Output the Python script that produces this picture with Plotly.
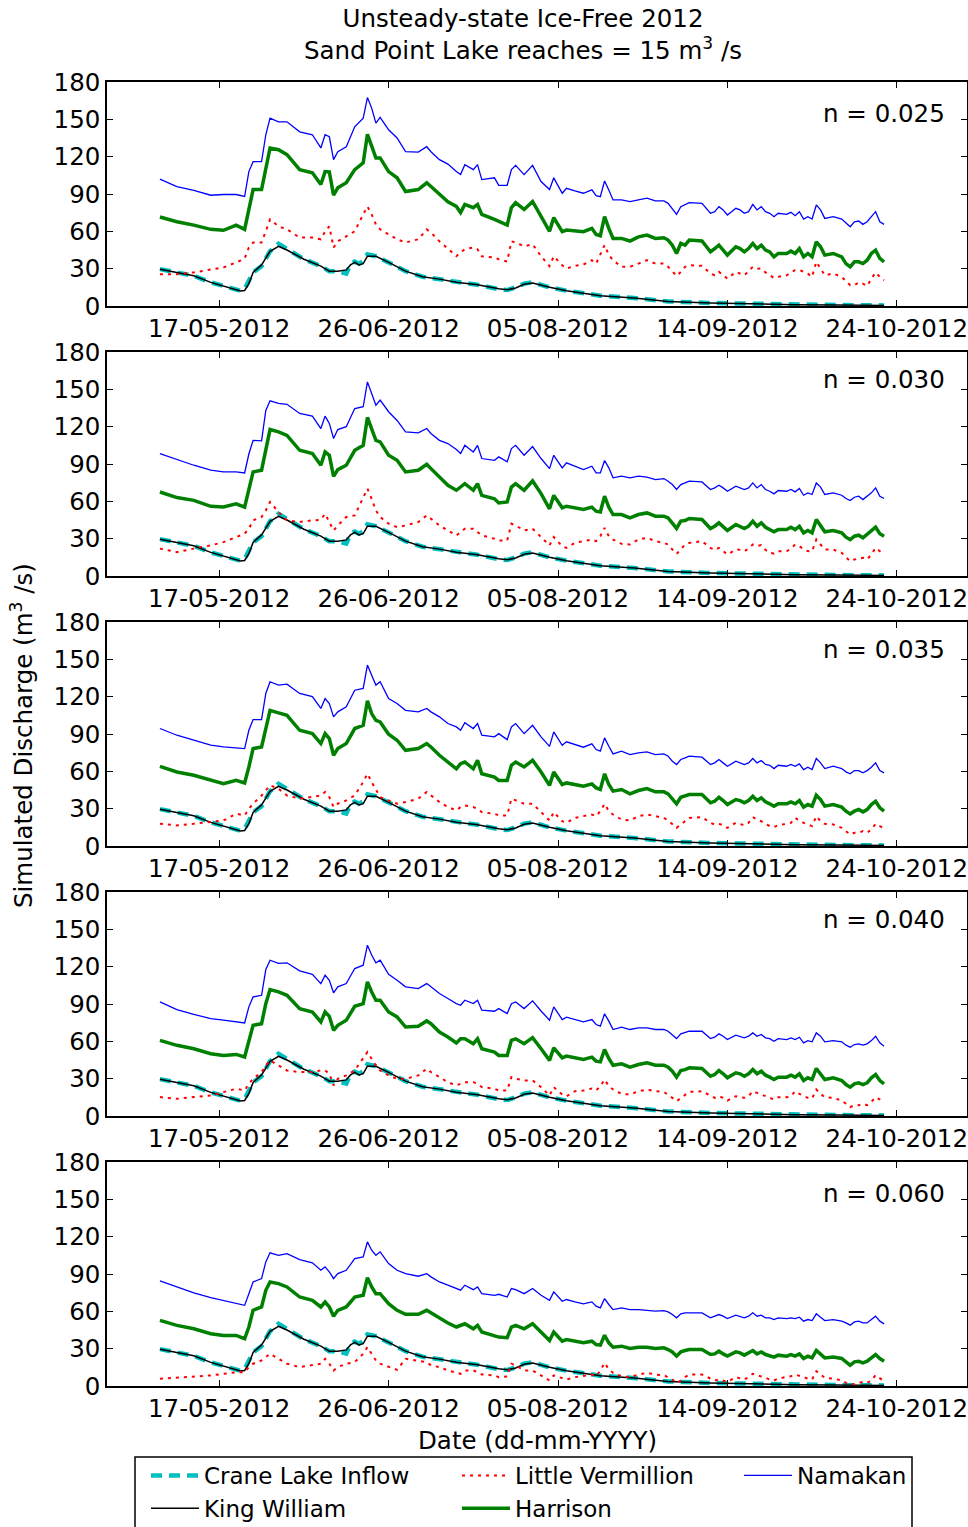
import pandas as pd
import plotly.graph_objects as go

START = pd.Timestamp("2012-05-03")

# day offsets from START for the sampled points
DAYS = [0, 4, 8, 12, 15, 18, 20, 21, 22, 24, 25, 26, 28, 30, 33, 36, 38, 39, 40, 41,
        42, 44, 46, 48, 49, 50, 51, 52, 54, 56, 58, 61, 63, 64, 66, 68, 70, 71, 72, 74,
        75, 76, 79, 80, 82, 83, 84, 86, 88, 90, 92, 93,
        95, 96, 98, 100, 102, 103, 104, 105, 106, 107, 109, 111, 113, 115, 117, 119, 120, 121, 122, 123,
        124, 125, 128, 130, 131, 132, 133, 134, 136, 137, 138, 139, 140, 141, 142, 143, 144, 145, 146, 148,
        149, 150, 151, 152, 153, 154, 155, 156, 157, 159, 161, 162, 163, 164, 165, 166, 167, 168, 169, 170, 171]

BASE_DAYS = [0, 4, 8, 12, 16, 19, 20, 21, 22, 24, 26, 28, 30, 34, 38, 40, 42, 44, 45, 46,
             47, 48, 49, 51, 54, 58, 62, 66, 70, 75, 80, 82, 84, 86, 88, 92, 96, 104, 112, 120,
             130, 140, 150, 160, 171]

CRANE_LAKE = [29.6, 27, 24.3, 19, 15, 12.3, 13.6, 20, 27, 32, 44, 50, 45.6, 37.6, 32, 28, 28, 26, 33.6, 35.7,
              34, 36, 41.6, 40, 35, 28, 23.5, 21.6, 19, 17, 13.6, 12.8, 15, 18, 19, 15, 12.3, 8.3, 6.4, 3.7,
              2.4, 1.6, 1.0, 0.8, 0.5]
KING_WILLIAM = [29.6, 27, 24.3, 19, 15, 12, 12.5, 18, 27, 33, 44, 48, 45, 37.6, 32, 28, 28, 29, 33, 35,
                33, 34, 40, 40, 35, 28, 23.5, 21.6, 19, 17, 13.8, 13, 14.5, 17.5, 18.5, 15, 12.3, 8.3, 6.4, 3.7,
                2.4, 1.6, 1.0, 0.8, 0.5]

# n = 0.025
NAMAKAN_025 = [102, 96, 93, 89, 89.6, 89.6, 88, 108, 116, 116, 137.6, 151, 148, 148, 140, 137.6, 127, 137.6, 136, 117.6,
               124, 128, 144, 151, 167.5, 159, 147, 151.5, 141.6, 135, 124, 123.7, 128, 124, 117.6, 114, 108, 105.6, 113.6, 109.6,
               113.6, 101.6, 103, 97, 97, 109.6, 113, 105.6, 113, 100, 93.6, 103,
               90.6, 94.6, 92.5, 90.6, 93.3, 88.7, 87.9, 100.5, 93.3, 85.2, 85.2, 83.9, 85.2, 86.6, 84.4, 84.4, 82.5, 78.5, 73.7, 79.8,
               81.2, 83, 82.5, 74.5, 75.8, 79.8, 77.2, 73.1, 78.5, 77.2, 74.5, 75.8, 81.7, 77.2, 79.8, 75.8, 74.5, 71.8, 74.5, 73.7,
               75.3, 72.6, 75.8, 69.9, 71.8, 69.9, 81.2, 77.2, 70.4, 71.8, 69.9, 66.4, 63.7, 67.7, 68.3, 65.6, 67.7, 71.8, 75.8, 67.7, 65.6]
HARRISON_025 = [71.5, 67.7, 65, 61.6, 60.8, 65, 61.6, 79, 93.6, 93.6, 111, 127, 125.6, 121.6, 109.6, 107, 97.6, 108, 107.7, 89,
                95, 99, 109.6, 115, 138, 128, 119, 119, 108, 103, 92, 93.6, 99, 96, 89.6, 83.7, 80, 75, 81.6, 79,
                81.6, 73.6, 69.6, 68, 65, 79, 83, 77.6, 84, 72, 60, 71,
                59.7, 61, 60.2, 59.7, 62.4, 57.5, 56.5, 71.8, 62.4, 54.3, 54.3, 52.2, 55.6, 57, 54.3, 54.8, 53, 48.9, 42.2, 50.3,
                48.9, 53, 52.2, 43.5, 46.2, 48.9, 44.9, 40.9, 47.6, 46.2, 43.5, 46.2, 50.3, 46.2, 48.9, 44.9, 43.5, 39.5, 42.2, 42.2,
                44.1, 42.2, 46.2, 39.5, 42.2, 39.5, 51.6, 47.6, 40.9, 42.2, 39.5, 34.1, 31.5, 35.5, 35.5, 34.1, 36.8, 42.2, 44.9, 38.2, 35.5]
LITTLE_VERMILLION_025 = [25.6, 25.6, 27, 29, 31, 35, 38, 47, 51, 51, 60, 69.6, 64, 61.6, 55, 55, 53.6, 60, 64, 47,
                         52, 56, 60, 73.6, 80, 73.6, 65.6, 61.6, 57.6, 53.6, 51, 53.6, 61.6, 59, 52, 45.6, 40, 43, 45.6, 47,
                         45.6, 40, 39, 37.6, 35.7, 52, 51, 48, 49.6, 40, 32, 40,
                         32.8, 30.1, 32.3, 33.3, 36.8, 34.1, 40.9, 48.9, 40.9, 36.8, 31.5, 31.5, 34.1, 36.8, 34.1, 34.1, 31.5, 27.4, 24.2, 27.4,
                         31.5, 32.8, 32.3, 26.1, 24.7, 27.4, 24.7, 22, 27.4, 26, 24.7, 28, 31.5, 30, 30.1, 27, 24.7, 22.5, 23.4, 24.7,
                         27, 28.8, 29, 27.4, 26, 23.4, 35.5, 30.1, 24.7, 26.1, 23.4, 20, 16.7, 16.7, 19, 18, 16.1, 22, 26.9, 23.4, 20.7]

# n = 0.030
NAMAKAN_030 = [98.4, 93.6, 89, 85, 83.6, 83.6, 82.8, 98, 109, 108.6, 133, 140.8, 138.7, 138, 130.6, 128.5, 118.5, 128.5, 122.6, 110.5,
               117.7, 120, 134.6, 136, 156, 146.7, 137.3, 141.3, 132, 125, 115.8, 115, 118.5, 114.5, 109, 106.4, 101.6, 98.4, 105, 99.7,
               105, 94.4, 93, 95.7, 91.7, 102.4, 105, 97, 104, 94.4, 86.3, 97,
               86.9, 90.9, 88.2, 85.5, 88.2, 82.9, 82.9, 92.8, 86.9, 78.9, 80.2, 78.9, 80.2, 79.4, 77.5, 78.3, 76.2, 73.5, 69.5, 73.5,
               74.8, 76.2, 75.6, 69.5, 70.8, 73, 70.8, 68.1, 72.2, 70.8, 69.5, 70.8, 74.8, 70.8, 73.5, 69.5, 68.1, 66, 68.7, 68.1,
               69.5, 67.6, 70.3, 64.9, 66.8, 65.5, 74.8, 71.4, 65.5, 66.8, 64.9, 62.3, 60.6, 63.3, 64.1, 61.4, 64.1, 66.8, 70.8, 64.1, 62.3]
HARRISON_030 = [67.5, 63, 60.8, 56, 55.4, 58, 55.4, 68.9, 83.6, 85, 101, 117.7, 115.8, 113, 101, 98.4, 89, 99.7, 97, 80,
                85.5, 89, 101, 105, 127.4, 118.5, 109, 107.8, 97, 93, 83.6, 85, 89.8, 86.3, 79.6, 72.9, 68.9, 71.5, 74.2, 68.9,
                74.2, 64.8, 62, 58.7, 59.5, 71.5, 74.2, 68.9, 76.4, 66.2, 54, 64.8,
                54.8, 56.1, 54.8, 53.4, 55.3, 52.1, 51.5, 64.1, 55.3, 49.4, 49.4, 46.7, 49.4, 50.7, 48.1, 48.1, 46.7, 42.7, 38.2, 44.1,
                44.6, 46.2, 45.4, 38.2, 40, 42.7, 40, 36.6, 41.4, 40, 38.2, 40, 44.1, 40, 42.7, 39.2, 37.3, 35.5, 37.3, 37.3,
                39.2, 37.3, 40, 34.7, 36.6, 34.7, 45.4, 40.8, 35.5, 36.6, 34.7, 31.2, 29.3, 32, 32.8, 30.7, 33.3, 36.6, 39.2, 33.9, 32]
LITTLE_VERMILLION_030 = [22, 19.2, 22, 24.6, 27.2, 31.3, 34, 38, 44.7, 47.4, 52.7, 59.5, 51.4, 44.7, 43.4, 44.7, 45.2, 50, 43.4, 36.6,
                         40.6, 47.4, 48.7, 63.5, 70.2, 62, 52.7, 47.4, 42, 39.3, 40.6, 43.4, 48.7, 46, 40.6, 36.6, 32.6, 35.3, 38, 38,
                         35.3, 32.6, 29.9, 28.6, 28.6, 42, 40.6, 36.6, 38, 31.3, 24.6, 31.3,
                         23.8, 22.6, 26.6, 28, 29.3, 28, 32, 38.7, 32, 29.3, 25.8, 25.3, 29.3, 30.7, 28, 26.6, 25.3, 21.3, 17.8, 21.3,
                         25.3, 26.6, 28, 22.6, 21, 22.6, 20, 17.3, 21.3, 21, 19.9, 22, 25.3, 24, 24.8, 21, 18.6, 18, 19.9, 19.9,
                         22, 25.3, 24, 21.3, 20, 19.9, 29.3, 25.3, 21.3, 21.3, 18.6, 15, 11.9, 13.3, 14, 14.6, 13.3, 17.3, 22.6, 19.9, 17.3]

# n = 0.035
NAMAKAN_035 = [94.4, 89, 85, 81, 79.6, 79, 78.3, 93, 101.6, 101.6, 122.6, 132, 129.3, 130, 122.6, 120, 110.5, 118.5, 114.5, 103.8,
               107.8, 111.8, 125.2, 126.6, 145.4, 137.3, 129.3, 132, 118.5, 114.5, 109, 107.8, 110.5, 107.8, 103.8, 98.4, 95.7, 93, 99, 94.4,
               98.4, 89, 87.7, 90.3, 85.5, 95.7, 98.4, 90.3, 97, 87.7, 80.1, 91.7,
               80.9, 83.7, 81.5, 79.4, 82.1, 77.5, 76.2, 86.9, 80.2, 74, 76.2, 73.5, 74.8, 75.6, 73.5, 74, 72.2, 68.1, 65.5, 69.5,
               70.8, 72.2, 71.4, 65.5, 66.8, 69.5, 66.8, 64.1, 68.1, 66.8, 65.5, 66.8, 70.3, 66.8, 68.7, 65.5, 64.9, 62.2, 64.9, 64.1,
               65.5, 64.1, 66, 61.4, 63.3, 61.4, 70.3, 66.8, 62.2, 64.1, 62.2, 59.6, 58, 60.6, 60.6, 58.8, 60.6, 63.3, 66.8, 60.6, 58.8]
HARRISON_035 = [64, 59.5, 56.8, 53.3, 50, 52.7, 50.6, 63.5, 78.3, 79.6, 95.7, 109, 107, 105, 93, 90.3, 82.3, 90.3, 86.3, 72.9,
                78.3, 82.3, 94.4, 97, 116.6, 106.4, 101, 99.7, 89.8, 85, 76.9, 78.3, 82.3, 79.6, 72.9, 67.5, 62, 66.2, 67.5, 62,
                68.9, 58.1, 55.4, 52.7, 52.7, 64.8, 67.5, 63.5, 68.9, 59.5, 48.7, 59.5,
                49.4, 50.7, 49.4, 48.1, 49.9, 46.7, 45.4, 58, 49.4, 44.1, 45.4, 41.9, 44.6, 46.2, 43.5, 43.5, 41.9, 38.2, 33.9, 39.2,
                40, 41.4, 41.4, 34.7, 36, 39.2, 36.5, 33.3, 37.3, 36.5, 34.7, 36.5, 40, 36.5, 38.7, 35.5, 33.9, 32, 33.9, 33.9,
                35.5, 33.9, 36.5, 31.2, 33.3, 32, 40.8, 37.3, 32, 33.3, 31.2, 28, 25.8, 28, 29.3, 27.4, 29.3, 33.3, 36, 30.7, 28]
LITTLE_VERMILLION_035 = [17.9, 16.5, 17.9, 19.2, 20.5, 25.9, 24.6, 29.9, 34, 40.6, 44.7, 48.7, 46, 40.6, 38, 39.3, 40.6, 43.4, 39.3, 31.3,
                         34, 36.6, 40.6, 51.4, 58.1, 51.4, 44.7, 39.3, 36.6, 34, 35.3, 38, 43.4, 40.6, 35.3, 31.3, 28.6, 31.3, 32.6, 31.3,
                         29.9, 27.2, 25.9, 24.6, 24.6, 38, 36.6, 34, 34, 27.2, 20.5, 27.2,
                         19.9, 18.6, 22.6, 24, 25.3, 24, 28, 33.9, 28, 25.3, 21.3, 20.5, 24, 25.3, 24, 22.6, 20.5, 17.3, 14.6, 17.3,
                         19.9, 22.6, 23.2, 18.6, 17.3, 17.8, 16.7, 14.6, 18.6, 17.8, 16.7, 18.6, 23.2, 21.3, 19.9, 17.8, 16, 15.2, 16.7, 17.8,
                         18.6, 22.6, 20.5, 18.6, 17.3, 16, 24, 19.9, 17.8, 17.3, 14.6, 11.9, 9.2, 10.6, 10.6, 11.9, 10.6, 13.3, 17.8, 16, 14.1]

# n = 0.040
NAMAKAN_040 = [91.7, 85.5, 81.7, 78.3, 77, 75.6, 74.8, 87.7, 95.7, 97, 117.7, 125.2, 122.6, 123.1, 116.6, 113.9, 106.4, 113.2, 109.1, 99,
               103.8, 106.4, 118.5, 121.2, 137.3, 129.3, 123.1, 125.2, 113.9, 109.1, 103.8, 102.4, 106.4, 103.8, 98.4, 94.4, 90.3, 89, 93, 90.3,
               93, 85, 84.2, 86.3, 82.3, 90.3, 91.7, 86.3, 92.5, 84.4, 77, 87.7,
               77.5, 79.4, 77.5, 75.6, 77.5, 73.5, 72.2, 82.1, 76.2, 69.5, 71.4, 69.5, 70.8, 70.8, 69.5, 69.5, 68.1, 64.9, 62.2, 66,
               66.8, 68.1, 68.1, 62.2, 63.3, 66, 64.1, 61.4, 64.9, 64.1, 62.8, 64.1, 66.8, 64.1, 65.5, 62.8, 62.2, 60.1, 62.2, 61.4,
               62.8, 61.4, 63.3, 58.8, 60.6, 59.6, 66.8, 64.1, 59.6, 60.6, 59.6, 56.9, 55.3, 57.4, 58, 56.9, 58, 60.6, 64.1, 58.8, 56.1]
HARRISON_040 = [60.8, 56.8, 54, 50, 48.7, 49.5, 47.4, 59.5, 72.9, 74.2, 90.3, 101.6, 99.7, 97, 86.3, 83.6, 75.6, 83.6, 80.1, 68.9,
                72.9, 76.9, 88.2, 90.3, 107.8, 99.7, 93, 93, 83.6, 79.6, 71.5, 72.1, 76.4, 74.2, 67.5, 63.5, 58.7, 62, 62, 58.1,
                62, 54, 51.4, 48.7, 48.7, 60.8, 62, 58.1, 63, 54, 44.7, 54.8,
                46.7, 48.1, 46.7, 45.4, 47.3, 44.1, 43.5, 53.4, 46.2, 40.8, 41.9, 39.2, 41.4, 42.7, 40.8, 40.8, 39.2, 36, 31.2, 36.5,
                37.3, 38.7, 38.2, 32, 33.3, 36.5, 33.9, 30.7, 34.7, 33.9, 32, 33.9, 37.3, 33.9, 36, 32.8, 31.2, 29.3, 31.2, 31.2,
                32.8, 31.2, 33.9, 28.5, 30.7, 29.3, 38.2, 33.9, 29.3, 30.7, 28.5, 25.3, 23.2, 25.8, 26.6, 25.3, 26.6, 30.7, 33.3, 28.5, 25.8]
LITTLE_VERMILLION_040 = [15.2, 13.8, 15.2, 16.5, 19.2, 21.9, 20.5, 25.9, 29.9, 35.3, 40.6, 44.7, 40.6, 36.6, 35.3, 35.3, 36.6, 36.6, 34, 24.6,
                         29.9, 32.6, 36.6, 46, 51.4, 46, 40.6, 36.6, 32.6, 29.9, 29.9, 32.6, 38, 35.3, 31.3, 27.2, 24.6, 25.9, 27.2, 27.2,
                         25.9, 23.2, 21.9, 20.5, 20.5, 31.3, 29.9, 28.6, 28.6, 23.2, 16.5, 23.2,
                         17.3, 15.9, 19.9, 20.5, 22.1, 20.5, 24, 29.3, 24, 21.3, 17.8, 17.3, 19.9, 21.3, 19.9, 19.4, 17.3, 14.6, 11.9, 14.6,
                         17.3, 19.4, 19.9, 15.9, 14.6, 15.9, 14.6, 12.4, 15.9, 15.1, 14.6, 15.9, 19.9, 18.6, 17.3, 15.9, 14.6, 13.3, 15.1, 15.1,
                         15.9, 19.9, 17.8, 15.9, 14.6, 14.1, 21.3, 17.8, 15.1, 14.6, 12.4, 9.8, 7.1, 8.7, 8.7, 9.8, 8.7, 11.4, 15.1, 13.3, 11.4]

# n = 0.060
NAMAKAN_060 = [84.4, 79.6, 74.8, 71, 68.9, 66.7, 64.8, 74.2, 83.6, 86.3, 99.7, 107, 105, 106.4, 101.6, 99, 93, 95.7, 91.7, 86.3,
               90.3, 93, 102.4, 103.8, 115.8, 109.1, 105, 107.8, 98.4, 93, 90.3, 88.2, 90.3, 87.7, 83.6, 81, 78.3, 77, 81, 77.4,
               79.6, 74.2, 72.9, 73.7, 71.5, 78.3, 77.4, 74.2, 78.3, 72.9, 68.9, 75.6,
               68.1, 69.5, 67.6, 66, 67.6, 64.1, 62.8, 70.3, 65.5, 61.4, 62.8, 61.4, 61.4, 60.6, 60.1, 60.6, 59.6, 57.4, 54.8, 58,
               58.8, 58.8, 58.8, 54.8, 56.1, 57.4, 56.1, 54.2, 56.9, 56.1, 54.8, 56.1, 58.8, 56.1, 56.9, 54.8, 54.8, 53.4, 54.8, 54.2,
               54.8, 54.2, 55.3, 52.1, 53.4, 52.6, 58, 55.3, 52.6, 53.4, 52.1, 50.7, 48.9, 51.5, 52.1, 50.7, 50.7, 53.4, 56.1, 52.1, 49.9]
HARRISON_060 = [52.7, 48.7, 46, 42, 40.6, 40.6, 38, 47.4, 60.8, 63.5, 76.9, 83.6, 82.3, 79.6, 71.5, 68.9, 63.5, 67.5, 63.5, 56,
                60.8, 63.5, 71.5, 72.9, 87.1, 79.6, 74.2, 74.2, 66.2, 60.8, 57.6, 57.6, 60.8, 58.7, 54, 50.6, 47.4, 48.7, 50, 46,
                48.7, 43.4, 40.6, 39.3, 38.8, 47.4, 48.7, 46, 50, 43.4, 36.6, 43.4,
                36, 37.3, 36, 34.7, 36, 33.3, 32.8, 40.8, 34.7, 31.2, 32, 30.1, 31.2, 31.2, 30.1, 30.7, 29.3, 27.4, 24, 27.4,
                28.5, 29.3, 29.3, 25.3, 25.8, 28, 25.8, 24, 27.4, 26.6, 24.8, 26.6, 28.5, 25.8, 27.4, 25.3, 24, 23.2, 24.8, 24,
                25.3, 24, 25.8, 22.1, 24, 22.6, 28.5, 25.8, 22.6, 23.2, 22.1, 19.4, 16.7, 19.4, 19.9, 18.6, 19.9, 22.6, 25.3, 22.1, 19.9]
LITTLE_VERMILLION_060 = [5.8, 6.6, 7.7, 8.5, 9.8, 11.1, 11.1, 15.2, 17.9, 20.5, 23.2, 25.9, 21.9, 17.9, 15.2, 16.5, 17.9, 21.9, 17.9, 12.5,
                         15.2, 17.9, 19.2, 25.9, 31.3, 25.9, 20.5, 17.9, 15.2, 13, 21.9, 20.5, 19.2, 16.5, 15.2, 12.5, 11.1, 9.8, 12.5, 12.5,
                         11.1, 9.3, 8.5, 7.1, 7.7, 17.9, 16.5, 12.5, 12.5, 8.5, 4.4, 8.5,
                         6, 5.2, 7.1, 7.9, 9.2, 7.9, 12.4, 18.6, 13.3, 10.6, 7.9, 7.1, 9.2, 10.6, 9.2, 8.7, 7.1, 5.2, 2.5, 4.4,
                         7.1, 9.2, 9.2, 6, 4.4, 5.2, 4.4, 3.3, 7.1, 6, 5.2, 7.1, 9.8, 8.7, 7.9, 6.6, 5.2, 4.4, 6, 7.1,
                         7.9, 9.2, 7.9, 7.1, 6, 5.2, 11.9, 9.2, 6.6, 6, 4.4, 2.5, 1.2, 1.7, 2.5, 3.3, 2.5, 4.4, 8.7, 6, 3.9]

N_LABELS = ["n = 0.025", "n = 0.030", "n = 0.035", "n = 0.040", "n = 0.060"]
NAMAKAN = [NAMAKAN_025, NAMAKAN_030, NAMAKAN_035, NAMAKAN_040, NAMAKAN_060]
HARRISON = [HARRISON_025, HARRISON_030, HARRISON_035, HARRISON_040, HARRISON_060]
LITTLE_VERMILLION = [LITTLE_VERMILLION_025, LITTLE_VERMILLION_030, LITTLE_VERMILLION_035,
                     LITTLE_VERMILLION_040, LITTLE_VERMILLION_060]

TICK_DATES = ["2012-05-17", "2012-06-26", "2012-08-05", "2012-09-14", "2012-10-24"]
Y_TICKS = [0, 30, 60, 90, 120, 150, 180]

for series in NAMAKAN + HARRISON + LITTLE_VERMILLION:
    assert len(series) == len(DAYS), len(series)
assert len(CRANE_LAKE) == len(BASE_DAYS) == len(KING_WILLIAM)

dates = [START + pd.Timedelta(days=d) for d in DAYS]
base_dates = [START + pd.Timedelta(days=d) for d in BASE_DAYS]

FONT = "DejaVu Sans"
FS = 24.5
LEG_FS = 23

# ---- layout geometry (pixels) ----
W, H = 968, 1527
L, R, T, B = 107, 967, 82, 1386
PW, PH = R - L, B - T
PANEL_H, PANEL_STEP = 224, 270


def px_x(p):
    return (p - L) / PW


def px_y(p):
    return (B - p) / PH


fig = go.Figure()

for i in range(5):
    xa = "x" if i == 0 else f"x{i+1}"
    ya = "y" if i == 0 else f"y{i+1}"
    show = i == 0
    fig.add_trace(go.Scatter(x=base_dates, y=CRANE_LAKE, mode="lines", name="Crane Lake Inflow",
                             line=dict(color="#00BFBF", width=4.5, dash="11px,7px"),
                             xaxis=xa, yaxis=ya, showlegend=show, legend="legend"))
    fig.add_trace(go.Scatter(x=base_dates, y=KING_WILLIAM, mode="lines", name="King William",
                             line=dict(color="black", width=1.5),
                             xaxis=xa, yaxis=ya, showlegend=show, legend="legend"))
    fig.add_trace(go.Scatter(x=dates, y=LITTLE_VERMILLION[i], mode="lines", name="Little Vermillion",
                             line=dict(color="red", width=2, dash="3px,5px"),
                             xaxis=xa, yaxis=ya, showlegend=show, legend="legend2"))
    fig.add_trace(go.Scatter(x=dates, y=HARRISON[i], mode="lines", name="Harrison",
                             line=dict(color="green", width=3.5),
                             xaxis=xa, yaxis=ya, showlegend=show, legend="legend2"))
    fig.add_trace(go.Scatter(x=dates, y=NAMAKAN[i], mode="lines", name="Namakan",
                             line=dict(color="blue", width=1.3),
                             xaxis=xa, yaxis=ya, showlegend=show, legend="legend3"))

axis_common = dict(showline=True, linecolor="black", linewidth=1.5, mirror="ticks",
                   ticks="inside", ticklen=6, tickwidth=1, tickcolor="black",
                   showgrid=False, zeroline=False,
                   tickfont=dict(family=FONT, size=FS, color="black"))

layout = dict(
    width=W, height=H,
    margin=dict(l=L, r=W - R, t=T, b=H - B, autoexpand=False),
    paper_bgcolor="white", plot_bgcolor="white",
    font=dict(family=FONT, size=FS, color="black"),
    annotations=[], shapes=[],
)

for i in range(5):
    top = T + PANEL_STEP * i
    bot = top + PANEL_H
    sfx = "" if i == 0 else str(i + 1)
    layout[f"xaxis{sfx}"] = dict(axis_common, domain=[0, 1], anchor=f"y{sfx}",
                                 type="date",
                                 range=["2012-04-20 12:00", "2012-11-09 14:00"],
                                 tickvals=TICK_DATES, tickformat="%d-%m-%Y",
                                 ticklabelstandoff=0)
    layout[f"yaxis{sfx}"] = dict(axis_common, domain=[px_y(bot), px_y(top)], anchor=f"x{sfx}",
                                 range=[0, 180], tickvals=Y_TICKS, ticklabelstandoff=0)
    layout["annotations"].append(dict(
        text=N_LABELS[i], xref=f"x{sfx} domain", yref=f"y{sfx} domain",
        x=1, y=1, xanchor="right", yanchor="middle", xshift=-20,
        yshift=-(31 if i in (0, 4) else 27),
        showarrow=False, font=dict(family=FONT, size=FS, color="black")))

layout["annotations"].append(dict(
    text="Unsteady-state Ice-Free 2012<br>Sand Point Lake reaches = 15 m<sup>3</sup> /s",
    xref="paper", yref="paper", x=px_x(523), y=px_y(35), xanchor="center", yanchor="middle",
    showarrow=False, font=dict(family=FONT, size=FS, color="black")))
layout["annotations"].append(dict(
    text="Simulated Discharge (m<sup>3</sup> /s)", textangle=-90,
    xref="paper", yref="paper", x=px_x(22), y=px_y(736), xanchor="center", yanchor="middle",
    showarrow=False, font=dict(family=FONT, size=FS, color="black")))
layout["annotations"].append(dict(
    text="Date (dd-mm-YYYY)",
    xref="paper", yref="paper", x=px_x(537), y=px_y(1440), xanchor="center", yanchor="middle",
    showarrow=False, font=dict(family=FONT, size=FS, color="black")))

layout["shapes"].append(dict(type="rect", xref="paper", yref="paper",
                             x0=px_x(135), x1=px_x(912), y0=px_y(1545), y1=px_y(1457),
                             line=dict(color="black", width=1.5), fillcolor="rgba(0,0,0,0)"))

leg_common = dict(bgcolor="rgba(0,0,0,0)", borderwidth=0, orientation="v",
                  xref="container", yref="container",
                  xanchor="left", yanchor="top", itemwidth=48, tracegroupgap=0,
                  font=dict(family=FONT, size=LEG_FS, color="black"))
LEG_TOP = 1 - 1454 / H
layout["legend"] = dict(leg_common, x=146 / W, y=LEG_TOP)
layout["legend2"] = dict(leg_common, x=457 / W, y=LEG_TOP)
layout["legend3"] = dict(leg_common, x=739 / W, y=LEG_TOP)

fig.update_layout(**layout)
fig.write_html("out.html", config={"displayModeBar": False},
               post_script="document.body.style.margin='0';document.body.style.overflow='hidden';")
